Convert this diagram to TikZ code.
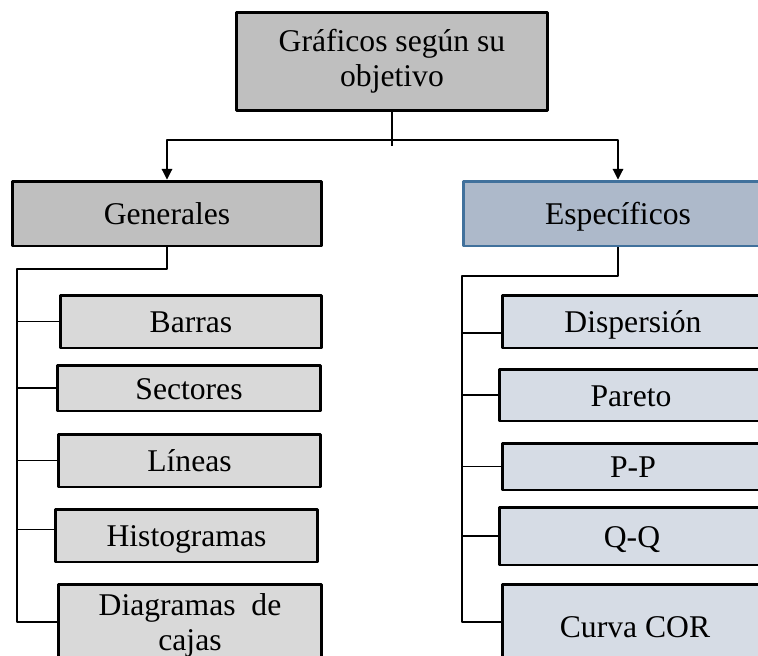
\documentclass[tikz,border=0pt]{standalone}
\usepackage{fontspec}
\setmainfont{Liberation Serif}
\usetikzlibrary{arrows.meta}

\definecolor{boxgray}{HTML}{BFBFBF}
\definecolor{subgray}{HTML}{D9D9D9}
\definecolor{espfill}{HTML}{ADB9CA}
\definecolor{espline}{HTML}{41719C}
\definecolor{subblue}{HTML}{D6DCE5}

\tikzset{
    box/.style={draw=black, line width=1.7pt, align=center, inner sep=0pt,
        font=\fontsize{18}{20}\selectfont},
    oneline/.style={text height=16pt, text depth=3pt},
    mainbox/.style={box, fill=boxgray},
    genbox/.style={box, fill=subgray},
    espbox/.style={box, fill=subblue},
    link/.style={line width=0.6pt},
    arr/.style={link, -{Triangle[width=6pt, length=6pt]}}
}

\begin{document}
\begin{tikzpicture}[x=0.02cm, y=-0.02cm, line join=round]

    % page is 758 x 656 px, boxes on the right run past the edge
    \useasboundingbox (0, 0) rectangle (758, 656);
    \clip (0, 0) rectangle (758, 656);

    % Top level and the two groups
    \node[mainbox, minimum width=6.22cm, minimum height=1.98cm] (top) at (392, 61.5)
        {Gráficos según su\\objetivo};
    \node[mainbox, oneline, minimum width=6.20cm, minimum height=1.30cm] (gen) at (167, 213.5)
        {Generales};
    \node[box, oneline, fill=espfill, draw=espline, minimum width=6.20cm, minimum height=1.30cm] (esp)
        at (618, 213.5) {Específicos};

    % Left column
    \node[genbox, oneline, minimum width=5.24cm, minimum height=1.06cm] (bar) at (191, 321.5) {Barras};
    \node[genbox, oneline, minimum width=5.28cm, minimum height=0.92cm] (sec) at (189, 388) {Sectores};
    \node[genbox, oneline, minimum width=5.26cm, minimum height=1.06cm] (lin) at (189.5, 460.5) {Líneas};
    \node[genbox, oneline, minimum width=5.26cm, minimum height=1.06cm] (his) at (186.5, 535.5) {Histogramas};
    \node[genbox, minimum width=5.28cm, minimum height=1.64cm] (dia) at (190, 625)
        {Diagramas~ de\\cajas};

    % Right column
    \node[espbox, oneline, minimum width=5.24cm, minimum height=1.06cm] (dis) at (633, 321.5) {Dispersión};
    \node[espbox, oneline, minimum width=5.28cm, minimum height=1.04cm] (par) at (631, 395) {Pareto};
    \node[espbox, oneline, minimum width=5.24cm, minimum height=0.94cm] (pp) at (633, 466.5) {P-P};
    \node[espbox, oneline, minimum width=5.32cm, minimum height=1.16cm] (qq) at (632, 536) {Q-Q};
    \node[espbox, oneline, minimum width=5.32cm, minimum height=1.68cm] (cor) at (635, 626) {Curva COR};

    % Split from the top box
    \coordinate (split) at (392, 140);
    \coordinate (stub) at (392, 146);
    \draw[link] (top.south) -- (stub);
    \draw[arr] (split) -| (gen.north);
    \draw[arr] (split) -| (esp.north);

    % Left trunk and branches
    \coordinate (gtop) at (17, 269);
    \coordinate (gbot) at (17, 622);
    \coordinate (hisin) at ([yshift=0.12cm]his.west);
    \draw[link] (gen.south) |- (gtop) -- (gbot) -- (gbot -| dia.west);
    \foreach \b in {bar, sec, lin, hisin}
        \draw[link] (gtop |- \b) -- (\b);

    % Right trunk and branches
    \coordinate (etop) at (462, 276);
    \coordinate (ebot) at (462, 622);
    \coordinate (disin) at ([yshift=-0.23cm]dis.west);
    \draw[link] (esp.south) |- (etop) -- (ebot) -- (ebot -| cor.west);
    \foreach \b in {disin, par, pp, qq}
        \draw[link] (etop |- \b) -- (\b);

\end{tikzpicture}
\end{document}
